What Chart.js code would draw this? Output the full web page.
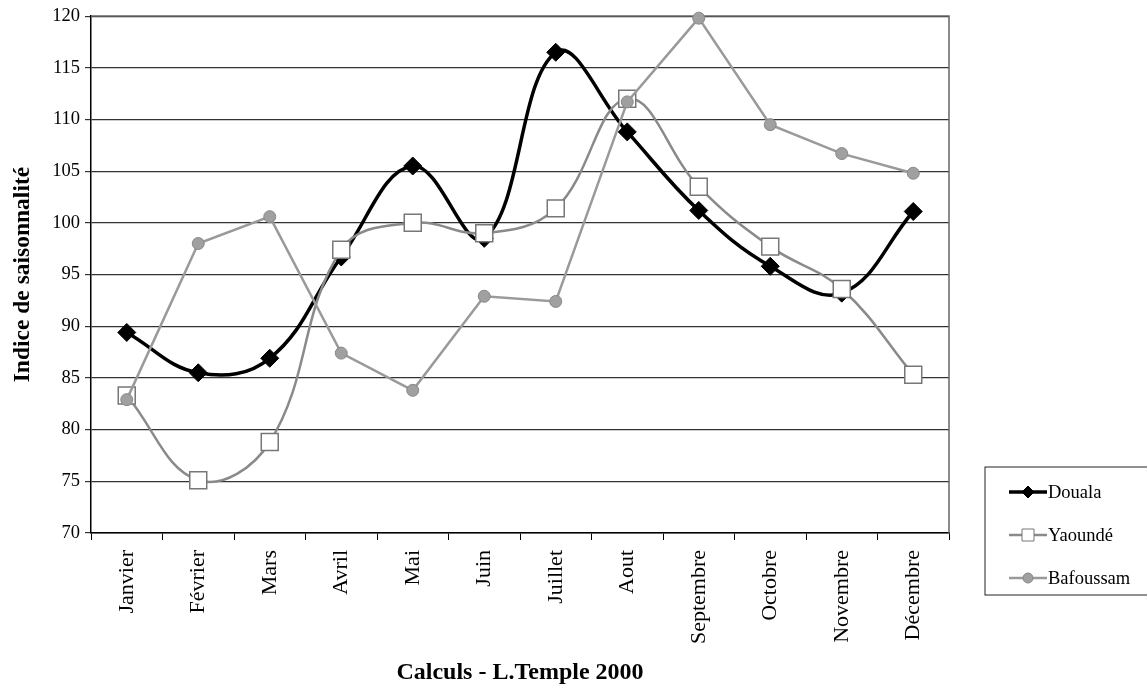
<!DOCTYPE html>
<html lang="fr">
<head>
<meta charset="utf-8">
<title>Indice de saisonnalité</title>
<script src="https://cdn.jsdelivr.net/npm/chart.js@4.4.1/dist/chart.umd.min.js"></script>
<style>
  html, body { margin: 0; padding: 0; background: #fff; }
  .chart-box { width: 1147px; height: 693px; }
</style>
</head>
<body>
<div class="chart-box"><canvas id="myChart"></canvas></div>
<script>
const months = ['Janvier', 'Février', 'Mars', 'Avril', 'Mai', 'Juin', 'Juillet', 'Aout', 'Septembre', 'Octobre', 'Novembre', 'Décembre'];
const cities = ['Douala', 'Yaoundé', 'Bafoussam'];

const douala = [89.4, 85.5, 86.9, 96.7, 105.5, 98.5, 116.5, 108.8, 101.2, 95.8, 93.2, 101.1];
const yaounde = [83.3, 75.1, 78.8, 97.4, 100.0, 99.0, 101.4, 112.0, 103.5, 97.7, 93.6, 85.3];
const bafoussam = [82.9, 98.0, 100.6, 87.4, 83.8, 92.9, 92.4, 111.7, 119.8, 109.5, 106.7, 104.8];

const yMin = 70;
const yMax = 120;
const yStep = 5;

const serif = "'Liberation Serif', 'Times New Roman', serif";

// top and right edge of the plot area
const plotFrame = {
  id: 'plotFrame',
  beforeDatasetsDraw(chart) {
    const { ctx, chartArea: a } = chart;
    ctx.save();
    ctx.strokeStyle = '#666';
    ctx.lineWidth = 1.5;
    ctx.beginPath();
    ctx.moveTo(a.left, a.top);
    ctx.lineTo(a.right, a.top);
    ctx.lineTo(a.right, a.bottom);
    ctx.stroke();
    ctx.restore();
  },
};

// small marker used in the legend box
function legendMarker(ctx, ds, x, y) {
  ctx.fillStyle = ds.pointBackgroundColor;
  ctx.strokeStyle = ds.pointBorderColor;
  ctx.lineWidth = 1;
  ctx.beginPath();
  if (ds.pointStyle === 'rectRot') {
    ctx.moveTo(x - 6, y);
    ctx.lineTo(x, y - 6);
    ctx.lineTo(x + 6, y);
    ctx.lineTo(x, y + 6);
    ctx.closePath();
  } else if (ds.pointStyle === 'rect') {
    ctx.rect(x - 6, y - 6, 12, 12);
  } else {
    ctx.arc(x, y, 5, 0, Math.PI * 2);
  }
  ctx.fill();
  ctx.stroke();
}

// legend sits at the lower right, beside the axis
const sideLegend = {
  id: 'sideLegend',
  afterDraw(chart) {
    const { ctx, chartArea } = chart;
    const x0 = chartArea.right + 36;
    const y0 = chartArea.bottom - 66;
    ctx.save();
    ctx.strokeStyle = '#222';
    ctx.lineWidth = 1;
    ctx.strokeRect(x0, y0, 220, 128);
    chart.data.datasets.forEach((ds, i) => {
      const y = y0 + 25 + i * 43;
      const lx = x0 + 24;
      ctx.strokeStyle = ds.borderColor;
      ctx.lineWidth = ds.borderWidth;
      ctx.beginPath();
      ctx.moveTo(lx, y);
      ctx.lineTo(lx + 38, y);
      ctx.stroke();
      legendMarker(ctx, ds, lx + 19, y);
      ctx.fillStyle = '#000';
      ctx.font = '18.5px ' + serif;
      ctx.textBaseline = 'middle';
      ctx.fillText(ds.label, lx + 39, y + 1);
    });
    ctx.restore();
  },
};

{
  const ctx = document.getElementById('myChart').getContext('2d');

  // eslint-disable-next-line
  const chart = new Chart(ctx, {
    type: 'line',
    data: {
      labels: months,
      datasets: [
        {
          label: cities[0],
          data: douala,
          borderColor: '#000',
          borderWidth: 3.5,
          pointStyle: 'rectRot',
          pointRadius: 9,
          pointBackgroundColor: '#000',
          pointBorderColor: '#000',
          pointBorderWidth: 1,
          tension: 0.4,
          order: 3,
        },
        {
          label: cities[1],
          data: yaounde,
          borderColor: '#8a8a8a',
          borderWidth: 2.5,
          pointStyle: 'rect',
          pointRadius: 12,
          pointBackgroundColor: '#fff',
          pointBorderColor: '#777',
          pointBorderWidth: 1.5,
          tension: 0.4,
          order: 2,
        },
        {
          label: cities[2],
          data: bafoussam,
          borderColor: '#9a9a9a',
          borderWidth: 2.5,
          pointStyle: 'circle',
          pointRadius: 6,
          pointBackgroundColor: '#a0a0a0',
          pointBorderColor: '#888',
          pointBorderWidth: 1,
          tension: 0,
          order: 1,
        },
      ],
    },
    options: {
      responsive: true,
      maintainAspectRatio: false,
      animation: false,
      clip: false,
      layout: { padding: { top: 16, right: 198, bottom: 0, left: 0 } },
      plugins: {
        legend: { display: false },
        tooltip: { enabled: false },
      },
      scales: {
        x: {
          offset: true,
          grid: { offset: true, drawOnChartArea: false, tickLength: 7, color: '#000' },
          border: { color: '#000', width: 1.5 },
          ticks: {
            autoSkip: false,
            minRotation: 90,
            maxRotation: 90,
            padding: 10,
            color: '#000',
            font: { family: serif, size: 22 },
          },
          title: {
            display: true,
            text: 'Calculs - L.Temple 2000',
            color: '#000',
            font: { family: serif, size: 24, weight: 'bold' },
            padding: { top: 0, bottom: 6 },
          },
          afterFit(scale) {
            scale.height = 160;
          },
        },
        y: {
          min: yMin,
          max: yMax,
          grid: { color: '#333', lineWidth: 1.2, tickLength: 6 },
          border: { color: '#000', width: 1.5 },
          ticks: {
            stepSize: yStep,
            padding: 5,
            color: '#000',
            font: { family: serif, size: 18.5 },
          },
          title: {
            display: true,
            text: 'Indice de saisonnalité',
            color: '#000',
            font: { family: serif, size: 23.5, weight: 'bold' },
            padding: { top: 9, bottom: 0 },
          },
          afterFit(scale) {
            scale.width = 91;
          },
        },
      },
    },
    plugins: [plotFrame, sideLegend],
  });
}
</script>
</body>
</html>
